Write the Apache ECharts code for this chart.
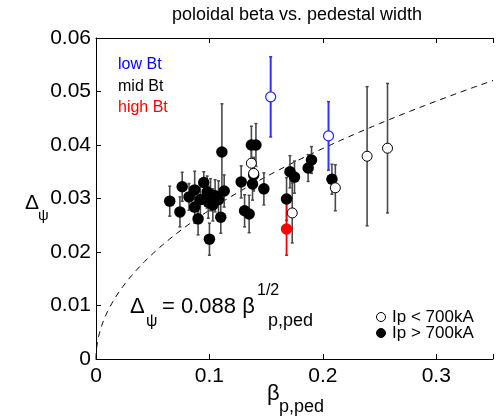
<!DOCTYPE html>
<html><head><meta charset="utf-8">
<script src="https://cdn.jsdelivr.net/npm/echarts@6/dist/echarts.min.js"></script>
<style>html,body{margin:0;padding:0;background:#fff}#c{width:496px;height:417px}</style>
</head><body><div id="c"></div>
<script>
// mid Bt, Ip > 700kA (filled black): [beta, delta, err]
var midFilled = [
 [0.065,0.0295,0.0028],[0.074,0.0275,0.0028],[0.076,0.0322,0.0027],[0.082,0.0303,0.0025],
 [0.087,0.0316,0.0035],[0.087,0.0284,0.0030],[0.090,0.0262,0.0030],[0.092,0.0298,0.0030],
 [0.095,0.0330,0.0020],[0.098,0.0312,0.0030],[0.099,0.0293,0.0030],[0.100,0.0224,0.0030],
 [0.101,0.0307,0.0030],[0.103,0.0288,0.0030],[0.105,0.0305,0.0030],[0.108,0.0298,0.0035],
 [0.110,0.0265,0.0030],[0.111,0.0387,0.0090],[0.113,0.0314,0.0030],[0.128,0.0331,0.0030],
 [0.131,0.0277,0.0030],[0.135,0.0271,0.0035],[0.137,0.0400,0.0035],[0.141,0.0400,0.0040],
 [0.138,0.0327,0.0030],[0.139,0.0344,0.0030],[0.148,0.0318,0.0030],[0.168,0.0299,0.0040],
 [0.171,0.0350,0.0030],[0.175,0.0340,0.0030],[0.187,0.0357,0.0025],[0.190,0.0372,0.0025],
 [0.208,0.0336,0.0028]
];
// mid Bt, Ip < 700kA (open black)
var midOpen = [
 [0.137,0.0366,0.0030],[0.139,0.0347,0.0030],[0.173,0.0273,0.0056],
 [0.211,0.0320,0.0043],[0.239,0.0379,0.0130],[0.257,0.0394,0.0121]
];
// low Bt (open blue)
var lowOpen = [[0.154,0.0490,0.0075],[0.205,0.0417,0.0064]];
// high Bt (filled red)
var highFilled = [[0.168,0.0243,0.0049]];
var fitCoef = 0.088;
var xTicks = [0,0.1,0.2,0.3];
var yTicks = [0,0.01,0.02,0.03,0.04,0.05,0.06];

var fit = [];
for (var i=0;i<=200;i++){ var b=0.35*Math.pow(i/200,2); fit.push([b, fitCoef*Math.sqrt(b)]); }

function errSeries(data,color,w){
  return {type:'custom',z:1,data:data,clip:false,
    renderItem:function(p,api){
      var x=api.value(0),y=api.value(1),e=api.value(2);
      var t=api.coord([x,y+e]),b=api.coord([x,y-e]);
      var c=3;
      return {type:'group',children:[
        {type:'line',shape:{x1:t[0],y1:t[1],x2:b[0],y2:b[1]},style:{stroke:color,lineWidth:w}},
        {type:'line',shape:{x1:t[0]-c/2,y1:t[1],x2:t[0]+c/2,y2:t[1]},style:{stroke:color,lineWidth:1.5}},
        {type:'line',shape:{x1:b[0]-c/2,y1:b[1],x2:b[0]+c/2,y2:b[1]},style:{stroke:color,lineWidth:1.5}}
      ]};
    }};
}
var font='"Liberation Sans", Arial, sans-serif';
var chart=echarts.init(document.getElementById('c'));
function txt(x,y,s,size,color,align){return {type:'text',x:x,y:y,style:{text:s,fontSize:size,fontFamily:font,fill:color||'#000',textAlign:align||'left',textVerticalAlign:'middle'}};}
chart.setOption({
  animation:false,
  grid:{left:96,top:38,width:401,height:321},
  xAxis:[{type:'value',min:0,max:0.35,interval:0.1,
    axisLine:{lineStyle:{color:'#000',width:1}},axisTick:{inside:true,length:5,lineStyle:{color:'#000'}},
    axisLabel:{fontSize:21,color:'#000',fontFamily:font,margin:7,formatter:function(v){return xTicks.indexOf(Math.round(v*10)/10)>=0?String(Math.round(v*10)/10):'';}},
    splitLine:{show:false}},
    {type:'value',position:'top',min:0,max:0.35,interval:0.1,axisLine:{lineStyle:{color:'#000'}},
    axisTick:{inside:true,length:5,lineStyle:{color:'#000'}},axisLabel:{show:false},splitLine:{show:false}}],
  yAxis:{type:'value',min:0,max:0.06,interval:0.01,
    axisLine:{show:true,lineStyle:{color:'#000',width:1}},axisTick:{show:true,inside:true,length:5,lineStyle:{color:'#000'}},
    axisLabel:{fontSize:21,color:'#000',fontFamily:font,margin:5,formatter:function(v){var r=Math.round(v*100)/100;return yTicks.indexOf(r)>=0?String(r):'';}},
    splitLine:{show:false}},
  series:[
    {type:'line',data:fit,showSymbol:false,symbol:'none',z:0,lineStyle:{color:'#000',width:1,type:[6,5]}},
    errSeries(midFilled,'#4a4a4a',1.6),
    errSeries(midOpen,'#4a4a4a',1.6),
    errSeries(lowOpen,'#3333ff',2),
    errSeries(highFilled,'#ff0000',1.8),
    {type:'scatter',z:3,data:midFilled,symbolSize:11.5,itemStyle:{color:'#000',opacity:1}},
    {type:'scatter',z:3,data:midOpen,symbol:'circle',symbolSize:10,itemStyle:{color:'#fff',borderColor:'#000',borderWidth:1,opacity:1}},
    {type:'scatter',z:3,data:lowOpen,symbol:'circle',symbolSize:10,itemStyle:{color:'#fff',borderColor:'#2222ff',borderWidth:1.2,opacity:1}},
    {type:'scatter',z:3,data:highFilled,symbolSize:11.5,itemStyle:{color:'#ff0000',opacity:1}}
  ],
  graphic:[
    txt(297,15,'poloidal beta vs. pedestal width',18,'#000','center'),
    txt(118,65,'low Bt',16,'#0000ff'),
    txt(118,87,'mid Bt',16,'#000'),
    txt(118,108,'high Bt',16,'#ff0000'),
    txt(25,203,'\u0394',21,'#000'),
    txt(38,216,'\u03c8',15,'#000'),
    txt(267,394,'\u03b2',22,'#000'),
    txt(279,407,'p,ped',18,'#000'),
    txt(130,307,'\u0394',22,'#000'),
    txt(146,322,'\u03c8',16,'#000'),
    txt(162,307,'= 0.088 \u03b2',22,'#000'),
    txt(257,291,'1/2',16,'#000'),
    txt(268,321,'p,ped',18,'#000'),
    {type:'circle',shape:{cx:381,cy:317,r:4.5},style:{fill:'#fff',stroke:'#000',lineWidth:1}},
    {type:'circle',shape:{cx:381,cy:333,r:4.5},style:{fill:'#000',stroke:'#000',lineWidth:1}},
    txt(392,317,'Ip < 700kA',17,'#000'),
    txt(392,333,'Ip > 700kA',17,'#000')
  ]
});
</script></body></html>
